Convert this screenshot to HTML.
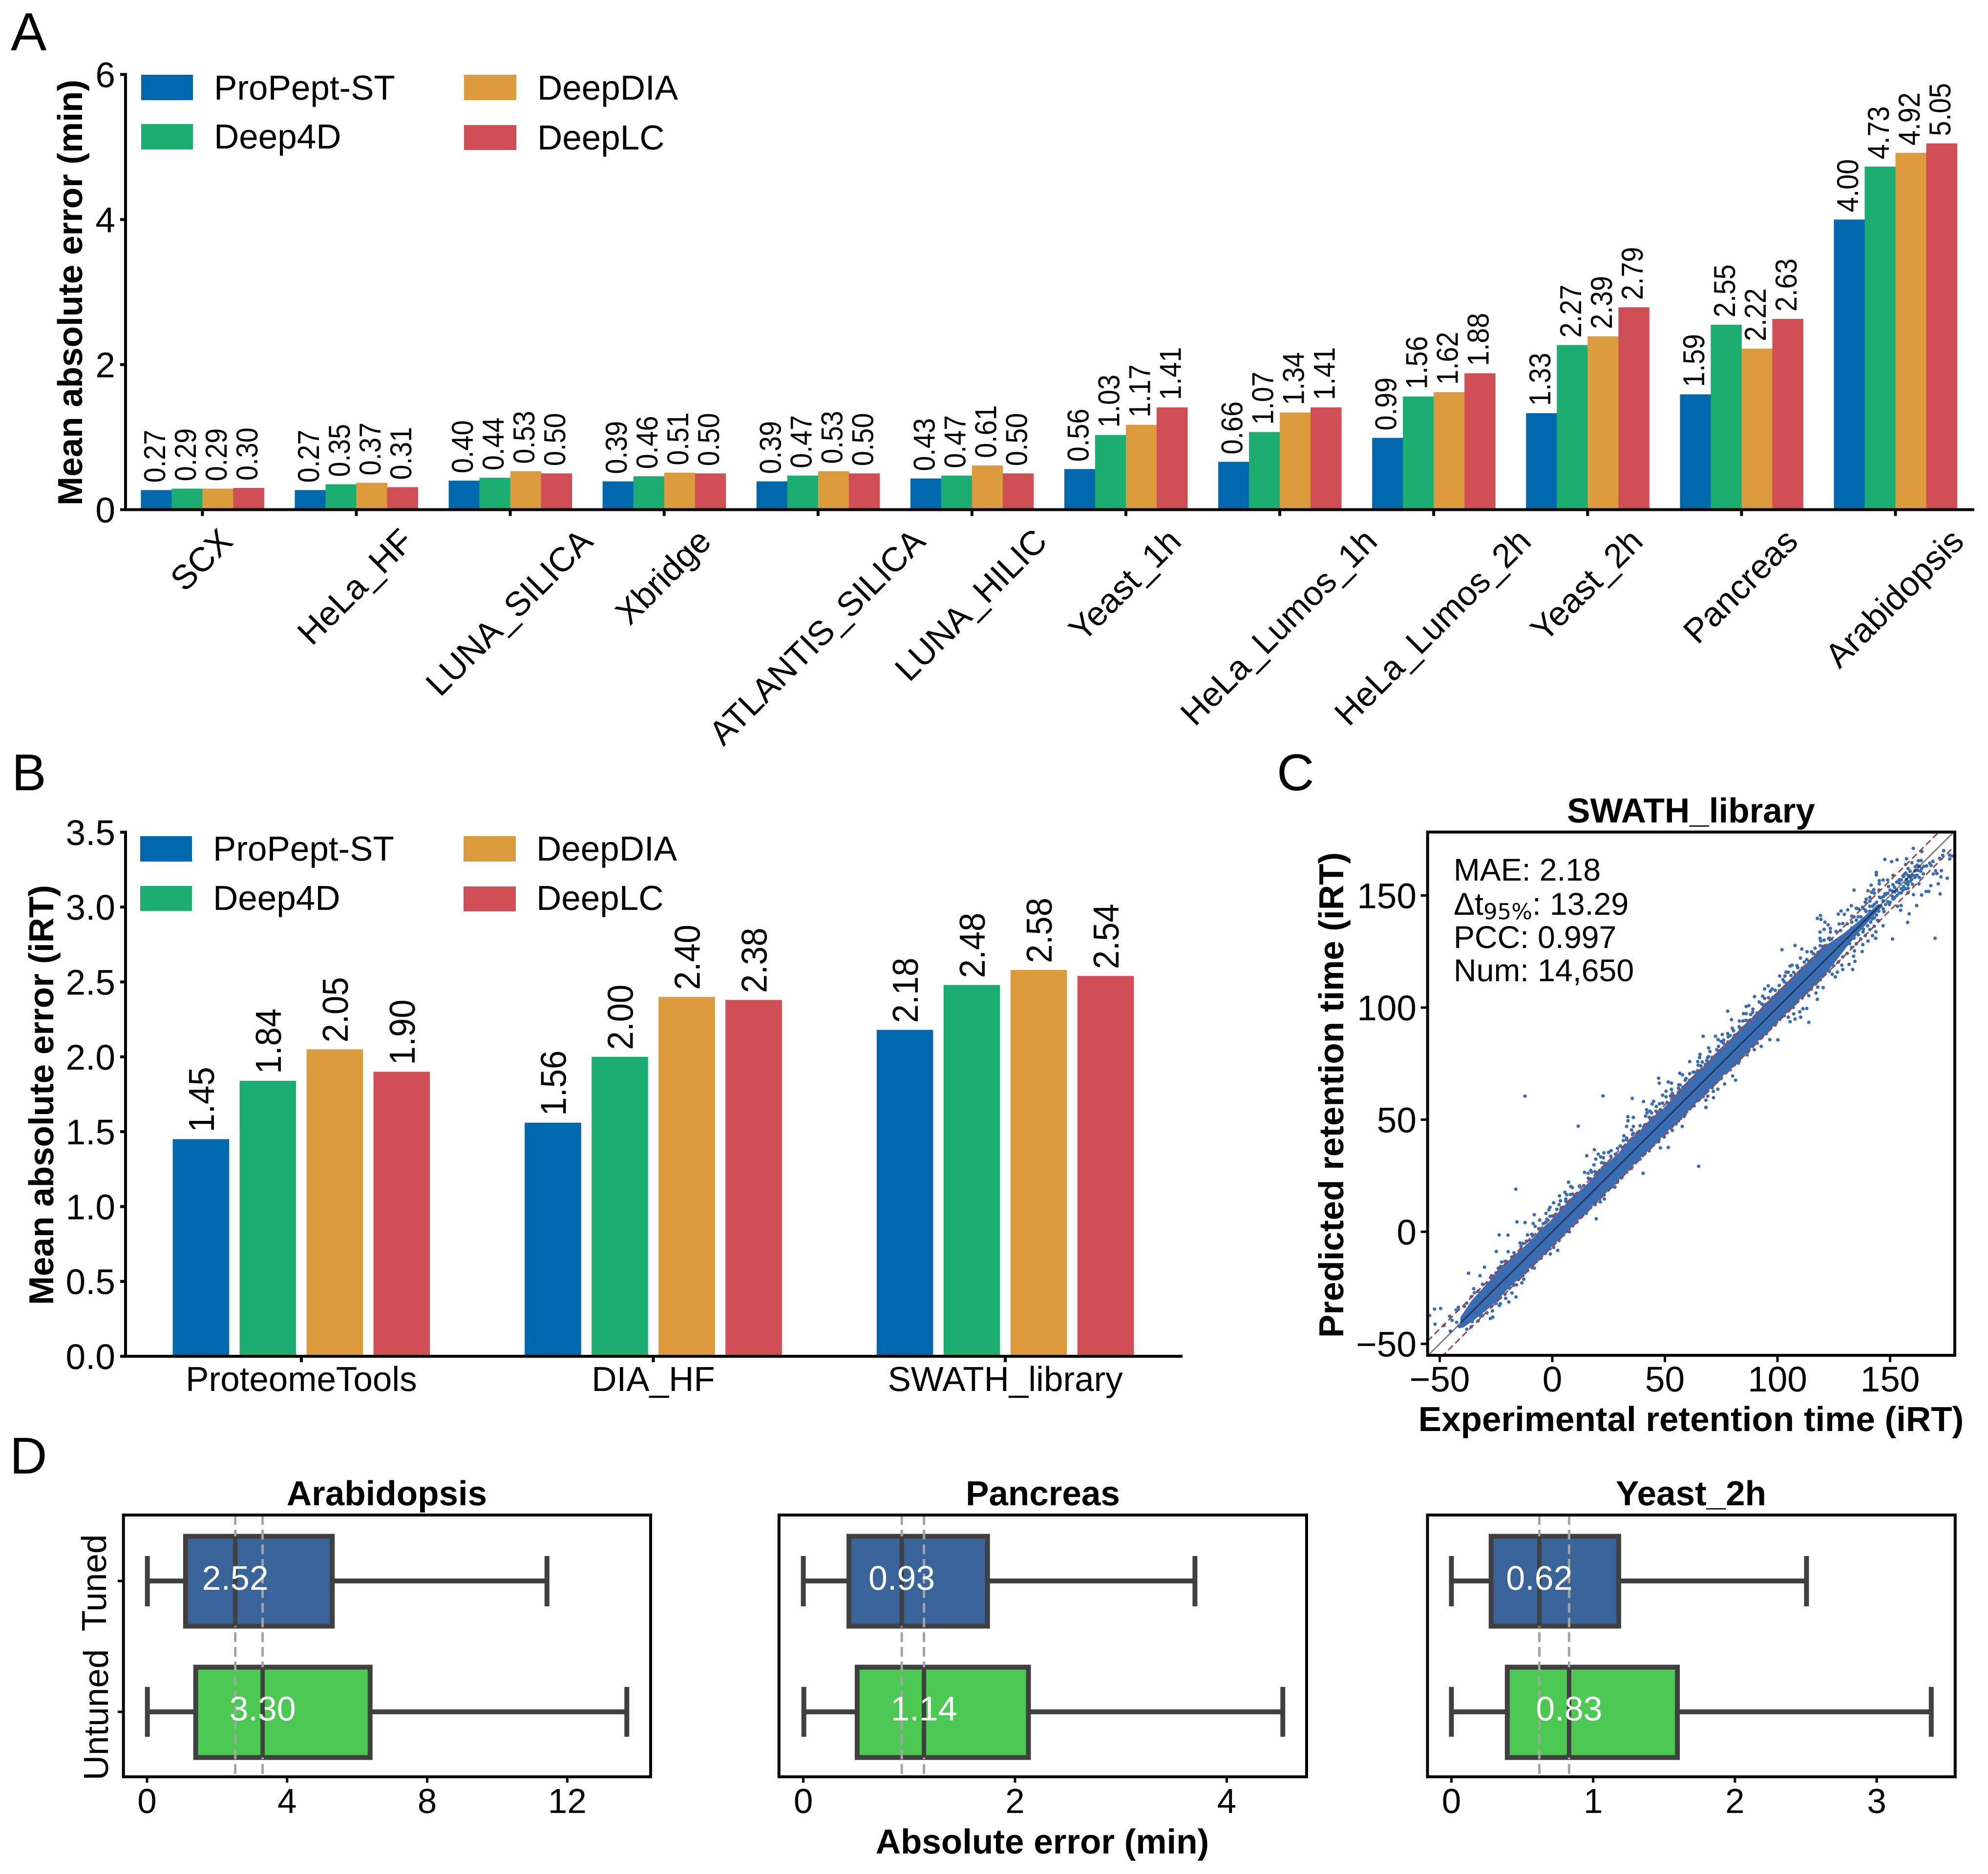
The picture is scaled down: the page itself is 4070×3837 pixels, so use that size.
<!DOCTYPE html>
<html lang="en">
<head>
<meta charset="utf-8">
<title>Retention time prediction benchmark</title>
<style>
html,body{margin:0;padding:0;background:#fff;}
svg{display:block;font-family:"Liberation Sans",Arial,sans-serif;text-rendering:geometricPrecision;}
.b{font-weight:bold;font-size:71px;}
.t{font-size:71px;}
.k{font-size:73px;}
.l{font-size:106px;}
</style>
</head>
<body>
<svg id="fig" xmlns="http://www.w3.org/2000/svg" width="4070" height="3837" viewBox="0 0 4070 3837">
<rect width="4070" height="3837" fill="#fff"/>
<defs><clipPath id="clipC"><rect x="2922.7" y="1703.6" width="1079.3" height="1071.4"/></clipPath></defs>

<text x="22" y="103" style="font-size:110px">A</text>
<text class="l" x="24" y="1618">B</text>
<text class="l" x="2614" y="1618">C</text>
<text class="l" x="20" y="3017">D</text>

<g id="panelA"></g>
<g id="panelB"></g>
<g id="panelC"></g>
<g id="panelD"></g>

<text class="b" text-anchor="middle" transform="translate(168,599) rotate(-90)">Mean absolute error (min)</text>
<g>
<rect x="289" y="153" width="106" height="52" fill="#0068ad"/>
<rect x="289" y="254" width="106" height="52" fill="#1cae70"/>
<rect x="950" y="153" width="107" height="52" fill="#dc9b3c"/>
<rect x="950" y="256" width="107" height="51" fill="#d04e55"/>
<text class="t" x="438" y="204">ProPept-ST</text>
<text class="t" x="438" y="304">Deep4D</text>
<text class="t" x="1100" y="204">DeepDIA</text>
<text class="t" x="1100" y="306">DeepLC</text>
</g>

<text class="b" text-anchor="middle" transform="translate(109,2242) rotate(-90)">Mean absolute error (iRT)</text>
<g>
<rect x="287" y="1712" width="106" height="52" fill="#0068ad"/>
<rect x="287" y="1814" width="106" height="51" fill="#1cae70"/>
<rect x="949" y="1712" width="107" height="52" fill="#dc9b3c"/>
<rect x="949" y="1815" width="107" height="51" fill="#d04e55"/>
<text class="t" x="436" y="1762">ProPept-ST</text>
<text class="t" x="436" y="1863">Deep4D</text>
<text class="t" x="1098" y="1762">DeepDIA</text>
<text class="t" x="1098" y="1863">DeepLC</text>
</g>

<text class="b" text-anchor="middle" x="3462" y="1684">SWATH_library</text>
<text class="b" text-anchor="middle" x="3462" y="2930">Experimental retention time (iRT)</text>
<text class="b" text-anchor="middle" transform="translate(2750,2242) rotate(-90)">Predicted retention time (iRT)</text>
<g style="font-size:64.5px">
<text x="2976" y="1803">MAE: 2.18</text>
<text x="2976" y="1873">Δt<tspan dy="9" style="font-family:'DejaVu Sans',sans-serif;font-size:45px">95%</tspan><tspan dy="-9">: 13.29</tspan></text>
<text x="2976" y="1941">PCC: 0.997</text>
<text x="2976" y="2009">Num: 14,650</text>
</g>

<text class="b" text-anchor="middle" x="792" y="3082">Arabidopsis</text>
<text class="b" text-anchor="middle" x="2135" y="3082">Pancreas</text>
<text class="b" text-anchor="middle" x="3462" y="3082">Yeast_2h</text>
<text class="b" text-anchor="middle" x="2134" y="3795">Absolute error (min)</text>
<text class="t" text-anchor="middle" transform="translate(217,3241) rotate(-90)">Tuned</text>
<text class="t" text-anchor="middle" transform="translate(221,3511) rotate(-90)">Untuned</text>
</svg>

<script>
// ---------- Panel A data ----------
const categoriesA = ["SCX","HeLa_HF","LUNA_SILICA","Xbridge","ATLANTIS_SILICA","LUNA_HILIC","Yeast_1h","HeLa_Lumos_1h","HeLa_Lumos_2h","Yeast_2h","Pancreas","Arabidopsis"];
const proPeptA = [0.27,0.27,0.40,0.39,0.39,0.43,0.56,0.66,0.99,1.33,1.59,4.00];
const deep4dA  = [0.29,0.35,0.44,0.46,0.47,0.47,1.03,1.07,1.56,2.27,2.55,4.73];
const deepDiaA = [0.29,0.37,0.53,0.51,0.53,0.61,1.17,1.34,1.62,2.39,2.22,4.92];
const deepLcA  = [0.30,0.31,0.50,0.50,0.50,0.50,1.41,1.41,1.88,2.79,2.63,5.05];
const yTicksA = [0,2,4,6];

// ---------- Panel B data ----------
const categoriesB = ["ProteomeTools","DIA_HF","SWATH_library"];
const proPeptB = [1.45,1.56,2.18];
const deep4dB  = [1.84,2.00,2.48];
const deepDiaB = [2.05,2.40,2.58];
const deepLcB  = [1.90,2.38,2.54];
const yTicksB = [0,0.5,1,1.5,2,2.5,3,3.5];

// ---------- Panel C data ----------
const xTicksC = [-50,0,50,100,150];
const yTicksC = [-50,0,50,100,150];
const delta95 = 13.29;
const bandX = [-40,-35,-30,-25,-20,-15,-10,-5,0,5,10,15,20,25,30,35,40,45,50,55,60,65,70,75,80,85,90,95,100,105,110,115,120,125,130,135,140,145];
const bandUpper = [-38.5,-31,-25.5,-20,-14.5,-10,-5.5,0,4.5,10,15.5,19.5,25,30,34.5,40.5,45,50.5,54.5,60,65.5,70.5,75.5,81,85.5,91,95.5,101,106,110.5,116,120.5,126,129,132.5,136.5,140.8,145.3];
const bandLower = [-42,-38.5,-34.5,-30,-24.5,-20,-15,-10.5,-5,-0.5,5,9.5,15,19.5,25,30,35,39.5,45,49.5,55,59.5,65,70,74.5,80,85,89.5,95,99.5,105,109.5,114.5,121,127.5,133.5,139.2,144.7];
const scatterPoints = [
[-12.1,60.5],[22.5,60.6],[11.5,47.1],[35.5,59.5],[40.5,58.1],[-16.2,19],[65,29.2],[40.3,26.1],[19.5,5.8],[18.7,36.6],[15.3,33.9],[7.2,22.1],[0.6,12.9],[-8,7.6],[-15.7,4.4],[-12.1,4.1],[-23.6,-1.4],[-19.7,-1.5],[-24.9,-8.8],[-19.6,-8.9],[-30.1,-15.8],[-22.5,-13.5],[-37.2,-18.5],[-32.1,-19.6],[-49.6,-34.2],[-52.3,-34.5],[-54.5,-37.4],[-52.1,-41.2],[-48.1,-41.8],[-45.3,-44.3],[-44.5,-39.5],[-42.5,-40.4],[-41.2,-42.3],[-34.9,-25.4],[-34.6,-27.2],[-16.1,-29.1],[-19.3,-31.3],[-23.1,-32.1],[-26.4,-38.1],[-27.5,-38.7],[-35.6,-40.1],[-13.5,-22.8],[-12.7,-21.2],[-8,-16.2],[2.4,-8.3],[-0.9,-9.9],[0.6,-7],[7.6,0],[23.1,14.6],[21.3,13.3],[27.8,19.9],[28.9,22.1],[51.5,37.6],[48,37.4],[57.7,47],[68.2,55.4],[69,60.5],[68.2,58.7],
[47.2,68.5],[47.5,66.3],[51.5,66.8],[52.9,66.3],[56.2,65.5],[50.5,62.7],[52.9,63.5],[53.3,61.8],[49,60.9],[50.5,60.2],[52.5,60.6],[45,58.2],[44.3,57],[46.2,55.9],[47.6,57.1],[41.9,54.4],[43.4,53.8],[44.1,53],[42.1,53],[41.4,51.6],[36,51],[33.6,51.3],[33.6,49.5],[33,47],[36,47],[35.2,45.4],[35.6,43.4],[31.8,42.8],[33,41.8],[31.6,40.7],[30.2,38.3],[26.1,36.2],[25,35.4],[22.9,35.2],[20.4,34.6],[21.5,33.4],[19.3,32.4],[22.7,33],[21.9,30.8],[18.5,29.8],[17.1,27.4],[14.3,26.5],[15.9,26.1],[17.5,26.6],[8.2,20.2],[8.9,19.7],[12.2,20.5],[5.6,17.6],[3.2,16],[6.4,16.5],[8,16.6],[3.6,13.8],[6,14.6],[3,12.1],[-1,10.9],[-1.5,9.8],[-2.8,8.2],[0,7],[-5.6,5.2],[-2.4,5.6],[-8.5,3.7],[-7.6,2.4],[-11,-1.4],[-9.2,-1.2],[-14.3,-5],[-13.9,-6.5],[-11.5,-4.2],[-23,-15.5],[-20.3,-13.3],[-27.4,-20.5],[-41.7,-33.7],[-42.7,-34.9],[-45.6,-37.7],[-39,-33.3],
[58.5,51.4],[56.1,49.5],[53.3,45.2],[49.7,42.3],[47.3,40.2],[35.4,28.9],[30.6,24],[15.1,8.2],[10.7,4.2],[-3.2,-9.7],[-15.9,-23.7],[-17.9,-27.3],[-20.7,-29.7],[-23.5,-32.9],[-26.6,-35.3],[-31.8,-37.7],
[160.3,171],[164.1,169.6],[173.8,170],[173.4,167.9],[176.4,168],[177.6,167.6],[176.5,166.3],[172,166.6],[147.7,166.1],[150.7,165.1],[153.1,165.9],[157.3,166.4],[162.6,165.5],[163.8,165.6],[169,165.2],[167.6,164.4],[168.2,163.4],[166.2,163.2],[159.7,164.6],[156.9,163.8],[158,162],[161.2,162.8],[172.8,161.1],[170.2,161],[169.2,159.6],[170.8,159.8],[172.6,158.3],[175.4,157.7],[171.4,155.2],[168.1,154.4],[172.2,150.7],[166,151.8],[167.2,151.8],[164,150.2],[160.4,150.4],[161.8,145.5],[158.5,141.8],[157.8,138],[154.7,143.4],[151.1,130.6],[170,130.9],[143.9,160.3],[143.9,159.2],[151.3,159],[146.9,156.9],[148.9,156.9],[145.2,156.6],[145.2,155.2],[141.6,154.6],[134,152.4],[140.2,152.1],[142.8,152.6],[145.1,152.4],[141.8,151.5],[139.4,148.4],[141,149.2],[137.8,144.8],[135,144.3],[132.8,145.4],[131.2,143.6],[128.2,143.1],[129.7,141.6],[127,141.7],[119.1,141.1],[117.7,139.8],[119.3,139.3],[121.1,138.1],[122.5,136.9],[120.7,134.9],[123.5,135.3],[123.5,133.7],[118.9,133.7],[118.9,130.9],[119.2,129.7],[120.7,130.1],[122.7,130.7],[120.3,127.3],[127.4,137.3],
[102,125.8],[107.8,127.7],[110.8,126.1],[113.1,124.9],[115.1,124.9],[116.7,126.5],[110.2,122.1],[111.9,120.3],[105.6,118.5],[106.5,118.9],[108.7,118.7],[103.8,115.8],[104.8,115.8],[107.2,115.7],[101,114.1],[103.3,114.1],[102.4,112.5],[100.8,109.9],[95.9,109.7],[94.3,108.3],[97.6,108.3],[96.8,107.3],[89.8,104.9],[93.4,105.1],[94.3,104.1],[91.9,102.5],[94.4,101.3],[86.1,100.5],[87.3,100.9],[89.1,99.3],[77.9,98.4],[84.9,97.3],[86.1,97.3],[88.1,96.9],[79.6,94.6],[83.1,94],[84.7,94],[87.1,94.1],[79.9,90.8],[83.3,90.9],[67,87.2],[72.5,87.2],[75.5,88],[77.9,88.4],[80.5,89.7],[73.6,85.7],[76.1,85.5],[78.1,86.9],[74.9,84.9],[73.8,82.7],[69.4,82],[70,80.4],[69.4,78.1],[65.6,79.1],[65.4,77.7],[61,75.9],[64.6,75.9],[64.8,74.3],[66.6,75.7],[68.6,76.4],[56.6,70.7],[57.8,70],[61,70.5],[62.6,71.2],[64.6,71.9],[59.4,68.4],[56.7,65.5],
[113.9,93.4],[113,99.6],[110.3,95.7],[111.3,99.5],[109.9,98.1],[107.2,97.2],[107.8,94.9],[105.6,93.7],[104.8,95.7],[100.2,85.6],[96.6,85.7],[92.8,82.7],[89.7,81.2],[86.5,78.9],[82.7,75.2],[81.4,67.6],[80.1,69.5],[76.5,65.9],[73.5,63.6],[71.5,62.6],[71.6,59.8],[68.3,55.5],[117.7,103.7],[117.1,106.5],[120.3,108.9],[117.9,109.1],[113.9,105.3],[124.3,114.9],[125.7,113.7],[126.6,115.8],[129,117],[128.6,118.9],[133.4,117],[131.8,119.3],[134.4,120.6],[133.8,122.9],[137.6,125],[134.2,125.3],[137.9,128.1],[140.2,129.7],[143.6,130.9],[142.2,132.1],[143.7,133.8],[146.9,136.5],[153.3,145.2],[154.9,145.5],[158,151.2],[162.8,155.2],
[155.7,158.8],[157.3,157.2],[159.6,157.2],[158,154.8],[161.2,158.8],[163.6,160.8],[164.8,159.6],[162.4,161.2],[158.9,160.8],[156.5,159.6],[154.1,155.6],[151.3,154.8],[149.3,154],[147.7,150.8],[145.3,149.2],[146.9,147.6],[151.3,148.4],[149.7,146],[147.3,142.8],[144.5,138.9],[141.4,138.1],[138.2,134.9],[135,135.7],[133,138.1],[135.8,140.5],[139.4,142.8],[142.2,145.2],[152.1,151.6],[155.7,152.4],[158,153.2],
[146,149],[147,144],[149,151],[150,147],[151,152],[152,149],[153,156],[153,150],[154,151],[155,157],[155,153],[156,154],[157,160],[157,153],[158,156],[159,158],[160,155],[160,159],[161,161],[162,159],[163,163],[163,158],[164,162],[165,163],[148,146],[144,147],[143,140],[141,143],
[132,128.5],[133,135.5],[134,131],[135,139],[136,132.5],[137,140.5],[138,133.8],[139,143.5],[140,136.5],[141,145.2],[142,139.5],[143,146],[144,141.3],[145,143],[146,145.2],[147,149.5],[148,150.3],[149,147.2],[150,152.4],[151,149.6],[152,153.6],[153,152.3],[154,157],[155,151.2],[156,158.4],[157,155.5],[158,159],[159,156.3],[161,158],[162,163.5]
];
const bandEdgeUpper = [[-38,-31.8],[-36,-29],[-33,-26.5],[-31,-23.4],[-29,-22.8],[-27,-19.6],[-25,-18.4],[-24,-16.3],[-22,-15.6],[-21,-13.2],[-18,-11.3],[-17,-9.4],[-14,-7.9],[-13,-5.2],[-10,-3.6],[-9,-1.1],[-6,1.4],[-4,3.6],[-3,4.2],[-1,6.9],[1,7.4],[2,10],[4,10.7],[6,13.6],[7,13.2],[9,16.8],[11,17.1],[12,20.3],[14,20.6],[16,23.9],[17,23.6],[19,26.8],[21,27.4],[23,30.6],[24,30.4],[26,33.7],[28,34.6],[29,37.2],[31,37.6],[33,41],[34,40.5],[36,43.9],[38,44.4],[39,47.3],[41,47.6],[43,51],[44,50.7],[46,53.8],[48,54.5],[49,57.4],[51,57.7],[53,60.9],[54,60.6],[56,64],[58,64.5],[59,67.6],[61,67.6],[63,71.2],[64,70.8],[66,74],[68,74.6],[69,77.7],[71,77.8],[73,81.2],[74,80.7],[76,84.1],[78,84.6],[79,87.5],[81,87.7],[83,91.4],[84,90.6],[86,94.3],[88,94.5],[89,97.9],[91,97.6],[93,101.6],[94,100.8],[96,104.4],[98,104.6],[99,107.7],[101,107.6],[103,111.5],[104,110.7],[106,114.3],[108,114.5],[109,117.8],[111,117.6],[113,121.4],[114,120.6],[116,124],[118,124.6],[119,127.6],[121,127.5],[123,131],[124,130.5],[126,134],[128,134.4],[129,137.5],[131,137.4],[133,140.8],[134,140.5],[136,144],[138,144.3],[139,147],[141,147.5],[143,151]];
const bandEdgeLower = [[-38,-43.5],[-36,-42.4],[-33,-39.8],[-31,-37.4],[-29,-36.2],[-27,-33.3],[-25,-32],[-23,-29.4],[-21,-27.9],[-19,-25.2],[-17,-23.8],[-15,-21.3],[-13,-19.6],[-11,-17.4],[-9,-16],[-7,-13.2],[-5,-11.8],[-3,-9.3],[-1,-7.6],[1,-5.2],[3,-3.9],[5,-1.4],[7,0.2],[9,2.6],[11,4.4],[13,6.7],[15,8.3],[17,10.8],[19,12.1],[21,14.6],[23,16.4],[25,18.8],[27,20.2],[29,22.7],[31,24.4],[33,26.6],[35,28.2],[37,30.8],[39,32.4],[41,34.7],[43,36.1],[45,38.8],[47,40.3],[49,42.7],[51,44.2],[53,46.8],[55,48.1],[57,50.6],[59,52.4],[61,54.8],[63,56.2],[65,58.7],[67,60.3],[69,62.8],[71,64.2],[73,66.7],[75,68.4],[77,70.9],[79,72.3],[81,74.6],[83,76.2],[85,78.8],[87,80.4],[89,82.7],[91,84.1],[93,86.6],[95,88.3],[97,90.8],[99,92.2],[101,94.7],[103,96.4],[105,98.6],[107,100.1],[109,102.8],[111,104.3],[113,106.7],[115,108.2],[117,110.6],[119,112.4],[121,114.8],[123,116.1],[125,118.7],[127,120.3],[129,122.6],[131,124.2],[133,126.8],[135,128.4],[137,130.6],[139,132.1],[141,134.8],[143,136.3],[145,138.7]];

// ---------- Panel D data ----------
const boxRows = ["Tuned","Untuned"];
const boxQ1 = [[1.10,1.39],[0.431,0.509],[0.28,0.394]];
const boxMedian = [[2.52,3.30],[0.93,1.14],[0.62,0.83]];
const boxQ3 = [[5.29,6.37],[1.74,2.127],[1.18,1.594]];
const boxWhiskerLow = [[0.01,0.01],[0,0.005],[0,0]];
const boxWhiskerHigh = [[11.42,13.7],[3.70,4.53],[2.505,3.385]];
const boxTicks = [[0,4,8,12],[0,2,4],[0,1,2,3]];

// ---------- Drawing helpers ----------
const NS = "http://www.w3.org/2000/svg";
function mk(parent, tag, attrs, content) {
  const el = document.createElementNS(NS, tag);
  for (const k in attrs) el.setAttribute(k, attrs[k]);
  if (content !== undefined) el.textContent = content;
  parent.appendChild(el);
  return el;
}
const seriesColors = ["#0068ad","#1cae70","#dc9b3c","#d04e55"];
const seriesKeys = ["propept-st","deep4d","deepdia","deeplc"];
const INK = "#000";

// ---------- Panel A ----------
(function () {
  const g = document.getElementById("panelA");
  const series = [proPeptA, deep4dA, deepDiaA, deepLcA];
  const x0 = 257, y0 = 1043.5, pxPerY = 148.5, firstGroup = 288.4, pitch = 315.1, barW = 63;
  const yA = v => y0 - v * pxPerY;
  const xA = (i, s) => firstGroup + i * pitch + s * barW;
  series.forEach((vals, s) => {
    vals.forEach((v, i) => {
      const bar = mk(g, "rect", {x: xA(i, s), y: yA(v), width: barW + 0.5, height: y0 - yA(v), fill: seriesColors[s]});
      
      
      const t = mk(g, "text", {transform: `translate(${xA(i, s) + barW / 2 + 18},${yA(v) - 15}) rotate(-90) scale(0.9,1)`, style: "font-size:62px"}, v.toFixed(2));
      
      
    });
  });
  yTicksA.forEach(v => {
    const tick = mk(g, "rect", {x: 246, y: yA(v) - 3, width: 12, height: 6, fill: INK});
    
    
    const t = mk(g, "text", {x: 236, y: yA(v) + 26, "text-anchor": "end", class: "k"}, String(v));
    
    
  });
  categoriesA.forEach((c, i) => {
    const cx = xA(i, 2);
    const tick = mk(g, "rect", {x: cx - 3, y: y0, width: 6, height: 13, fill: INK});
    
    
    const t = mk(g, "text", {"text-anchor": "middle", style: "font-size:70px", y: 25}, c);
    
    
    const w = t.getComputedTextLength();
    const cy = 1077 + (w + 50) * 0.3535;
    t.setAttribute("transform", `translate(${cx - 3},${cy}) rotate(-45)`);
  });
  const yAxis = mk(g, "rect", {x: x0 - 3, y: yA(6) - 3, width: 6, height: y0 - yA(6) + 6, fill: INK});
  
  
  const xAxis = mk(g, "rect", {x: x0 - 3, y: y0 - 3, width: 4045 - x0, height: 6, fill: INK});
  
  
})();

// ---------- Panel B ----------
(function () {
  const g = document.getElementById("panelB");
  const series = [proPeptB, deep4dB, deepDiaB, deepLcB];
  const x0 = 257, y0 = 2777, pxPerY = 306.6, firstGroup = 353.6, pitch = 720.6, step = 137, barW = 115.6;
  const yB = v => y0 - v * pxPerY;
  const xB = (i, s) => firstGroup + i * pitch + s * step;
  series.forEach((vals, s) => {
    vals.forEach((v, i) => {
      const bar = mk(g, "rect", {x: xB(i, s), y: yB(v), width: barW, height: y0 - yB(v), fill: seriesColors[s]});
      
      
      const t = mk(g, "text", {transform: `translate(${xB(i, s) + barW / 2 + 26.5},${yB(v) - 14}) rotate(-90) scale(0.93,1)`, style: "font-size:74px"}, v.toFixed(2));
      
      
    });
  });
  yTicksB.forEach(v => {
    const tick = mk(g, "rect", {x: 246, y: yB(v) - 3, width: 12, height: 6, fill: INK});
    
    
    const t = mk(g, "text", {x: 236, y: yB(v) + 26, "text-anchor": "end", class: "k"}, v.toFixed(1));
    
    
  });
  categoriesB.forEach((c, i) => {
    const cx = xB(i, 1.5) + barW / 2;
    const tick = mk(g, "rect", {x: cx - 3, y: y0, width: 6, height: 12, fill: INK});
    
    
    const t = mk(g, "text", {x: cx, y: 2848, "text-anchor": "middle", class: "t"}, c);
    
    
  });
  const yAxis = mk(g, "rect", {x: x0 - 3, y: yB(3.5) - 3, width: 6, height: y0 - yB(3.5) + 6, fill: INK});
  
  
  const xAxis = mk(g, "rect", {x: x0 - 3, y: y0 - 3, width: 2424 - x0, height: 6, fill: INK});
  
  
})();

// ---------- Panel C ----------
(function () {
  const g = document.getElementById("panelC");
  const L = 2922.7, R = 4002, T = 1703.6, B = 2775;
  const xC = v => 3178 + v * 4.61;
  const yC = v => 2522 - v * 4.59;
  const xMin = (L - 3178) / 4.61, xMax = (R - 3178) / 4.61;
  const clip = mk(g, "g", {"clip-path": "url(#clipC)"});
  
  
  const up = bandX.map((x, i) => xC(x) + "," + yC(bandUpper[i]));
  const low = bandX.map((x, i) => xC(x) + "," + yC(bandLower[i])).reverse();
  const band = mk(clip, "polygon", {points: up.concat(low).join(" "), fill: "#3a6cb1", stroke: "#3a6cb1", "stroke-width": 8, "stroke-linejoin": "round"});
  
  
  scatterPoints.concat(bandEdgeUpper, bandEdgeLower).forEach(p => {
    const dot = mk(clip, "circle", {cx: xC(p[0]), cy: yC(p[1]), r: 3.6, fill: "#3a6cb1"});
    
    
  });
  const identity = mk(clip, "line", {x1: xC(xMin), y1: yC(xMin), x2: xC(xMax), y2: yC(xMax), stroke: "#000", "stroke-opacity": 0.5, "stroke-width": 3});
  
  
  [delta95 / 2, -delta95 / 2].forEach(d => {
    const l = mk(clip, "line", {x1: xC(xMin), y1: yC(xMin + d), x2: xC(xMax), y2: yC(xMax + d), stroke: "#a0444a", "stroke-width": 3, "stroke-dasharray": "13,7"});
    
    
  });
  xTicksC.forEach(v => {
    const tick = mk(g, "rect", {x: xC(v) - 2.5, y: B, width: 5, height: 14, fill: INK});
    
    
    const t = mk(g, "text", {x: xC(v), y: 2849, "text-anchor": "middle", class: "k"}, String(v).replace("-", "\u2212"));
    
    
  });
  yTicksC.forEach(v => {
    const tick = mk(g, "rect", {x: L - 14, y: yC(v) - 2.5, width: 14, height: 5, fill: INK});
    
    
    const t = mk(g, "text", {x: 2900, y: yC(v) + 26, "text-anchor": "end", class: "k"}, String(v).replace("-", "\u2212"));
    
    
  });
  const frame = mk(g, "rect", {x: L, y: T, width: R - L, height: B - T, fill: "none", stroke: INK, "stroke-width": 6});
  
  
})();

// ---------- Panel D ----------
(function () {
  const g = document.getElementById("panelD");
  const T = 3102, B = 3638;
  const layouts = [
    {left: 252.7, right: 1332, zero: 301, scale: 71.7},
    {left: 1594.8, right: 2675, zero: 1644.6, scale: 216.7},
    {left: 2922.5, right: 4002.8, zero: 2971.5, scale: 290.2}
  ];
  const rowGeom = [
    {top: 3145.5, bottom: 3329.5, mid: 3237, capTop: 3186, capBottom: 3289, base: 3255, fill: "#38649a"},
    {top: 3413.5, bottom: 3598.5, mid: 3505, capTop: 3454, capBottom: 3556, base: 3522.5, fill: "#4bc952"}
  ];
  const LINE = "#404040";
  layouts.forEach((lay, p) => {
    const xD = v => lay.zero + v * lay.scale;
    boxRows.forEach((row, r) => {
      const rg = rowGeom[r];
      const q1 = boxQ1[p][r], q3 = boxQ3[p][r];
      const wl = boxWhiskerLow[p][r], wh = boxWhiskerHigh[p][r];
      const whiskerLow = mk(g, "line", {x1: xD(wl), y1: rg.mid, x2: xD(q1), y2: rg.mid, stroke: LINE, "stroke-width": 10});
      
      
      const whiskerHigh = mk(g, "line", {x1: xD(q3), y1: rg.mid, x2: xD(wh), y2: rg.mid, stroke: LINE, "stroke-width": 10});
      
      
      [wl, wh].forEach(w => {
        const cap = mk(g, "line", {x1: xD(w), y1: rg.capTop, x2: xD(w), y2: rg.capBottom, stroke: LINE, "stroke-width": 10});
        
        
      });
      const box = mk(g, "rect", {x: xD(q1), y: rg.top, width: xD(q3) - xD(q1), height: rg.bottom - rg.top, fill: rg.fill, stroke: LINE, "stroke-width": 10});
      
      
    });
    boxRows.forEach((row, r) => {
      const v = boxMedian[p][r];
      const ref = mk(g, "line", {x1: xD(v), y1: T, x2: xD(v), y2: B, stroke: "#a3a3a3", "stroke-width": 5, "stroke-dasharray": "20,10"});
      
      
    });
    boxRows.forEach((row, r) => {
      const rg = rowGeom[r];
      const v = boxMedian[p][r];
      const m = mk(g, "line", {x1: xD(v), y1: rg.top, x2: xD(v), y2: rg.bottom, stroke: LINE, "stroke-width": 9});
      
      
      const t = mk(g, "text", {x: xD(v), y: rg.base, "text-anchor": "middle", style: "font-size:70px", fill: "#fff"}, v.toFixed(2));
      
      
    });
    boxTicks[p].forEach(v => {
      const tick = mk(g, "rect", {x: xD(v) - 2.5, y: B, width: 5, height: 12, fill: INK});
      
      
      const t = mk(g, "text", {x: xD(v), y: 3712, "text-anchor": "middle", class: "t"}, String(v));
      
      
    });
    const frame = mk(g, "rect", {x: lay.left, y: T, width: lay.right - lay.left, height: B - T, fill: "none", stroke: INK, "stroke-width": 6});
    
    
  });
  rowGeom.forEach(rg => {
    const tick = mk(g, "rect", {x: 241, y: rg.mid - 2.5, width: 12, height: 5, fill: INK});
    
    
  });
})();
</script>
</body>
</html>
